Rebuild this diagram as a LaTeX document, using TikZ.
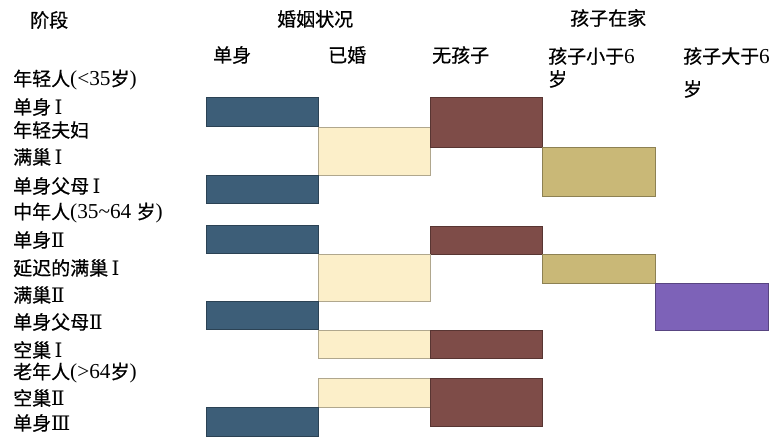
\documentclass[tikz,border=0pt]{standalone}
\usepackage{fontspec}
\setmainfont[Scale=1.12]{Liberation Serif}
\newfontfamily\cjk[FakeBold=0.6]{Noto Sans CJK SC}
\newfontfamily\rn[Scale=1.05]{DejaVu Serif}
\definecolor{cblue}{HTML}{3D5E78}
\definecolor{ccream}{HTML}{FCEFC9}
\definecolor{cbrown}{HTML}{7E4C48}
\definecolor{ckhaki}{HTML}{C9B877}
\definecolor{cpurple}{HTML}{7D62B8}
\begin{document}
\begin{tikzpicture}[x=1pt,y=-1pt,
  lbl/.style={anchor=west,inner sep=0pt,font=\fontsize{19}{22}\selectfont},
  bar/.style={draw=#1!70!black,line width=0.7pt,fill=#1},
]
\useasboundingbox (0,0) rectangle (780,438);
% headers
\node[lbl] (h1) at (30,20) {\cjk 阶段};
\node[lbl] (h2) at (277,19) {\cjk 婚姻状况};
\node[lbl] (h3) at (570,18) {\cjk 孩子在家};
\node[lbl] (c1) at (213,55) {\cjk 单身};
\node[lbl] (c2) at (328,55) {\cjk 已婚};
\node[lbl] (c3) at (432,55) {\cjk 无孩子};
\node[lbl] (c4) at (548,56) {{\cjk 孩子小于}6};
\node[lbl] (c4b) at (548,79) {\cjk 岁};
\node[lbl] (c5) at (683,56) {{\cjk 孩子大于}6};
\node[lbl] (c5b) at (683,89) {\cjk 岁};
% row labels
\node[lbl] (r1) at (13,80) {{\cjk 年轻人}(<35{\cjk 岁})};
\node[lbl] (r2) at (13,107) {{\cjk 单身}\,{\rn Ⅰ}};
\node[lbl] (r3) at (13,130) {\cjk 年轻夫妇};
\node[lbl] (r4) at (13,157) {{\cjk 满巢}\,{\rn Ⅰ}};
\node[lbl] (r5) at (13,186) {{\cjk 单身父母}\,{\rn Ⅰ}};
\node[lbl] (r6) at (13,213) {{\cjk 中年人}(35\textasciitilde64 {\cjk 岁})};
\node[lbl] (r7) at (13,240) {{\cjk 单身}{\rn Ⅱ}};
\node[lbl] (r8) at (13,268) {{\cjk 延迟的满巢}\,{\rn Ⅰ}};
\node[lbl] (r9) at (13,295) {{\cjk 满巢}{\rn Ⅱ}};
\node[lbl] (r10) at (13,322) {{\cjk 单身父母}{\rn Ⅱ}};
\node[lbl] (r11) at (13,350) {{\cjk 空巢}\,{\rn Ⅰ}};
\node[lbl] (r12) at (13,373) {{\cjk 老年人}(>64{\cjk 岁})};
\node[lbl] (r13) at (13,398) {{\cjk 空巢}{\rn Ⅱ}};
\node[lbl] (r14) at (13,423) {{\cjk 单身}{\rn Ⅲ}};
% bars
\path[bar=cblue] (206,97) rectangle (318,126);
\path[bar=ccream] (318,127) rectangle (430,175);
\path[bar=cbrown] (430,97) rectangle (542,147);
\path[bar=ckhaki] (542,147) rectangle (655,196);
\path[bar=cblue] (206,175) rectangle (318,203);
\path[bar=cblue] (206,225) rectangle (318,253);
\path[bar=cbrown] (430,226) rectangle (542,254);
\path[bar=ccream] (318,254) rectangle (430,301);
\path[bar=ckhaki] (542,254) rectangle (655,283);
\path[bar=cpurple] (655,283) rectangle (768,330);
\path[bar=cblue] (206,301) rectangle (318,329);
\path[bar=ccream] (318,330) rectangle (430,358);
\path[bar=cbrown] (430,330) rectangle (542,358);
\path[bar=ccream] (318,378) rectangle (430,407);
\path[bar=cbrown] (430,378) rectangle (542,426);
\path[bar=cblue] (206,407) rectangle (318,436);
\end{tikzpicture}
\end{document}
